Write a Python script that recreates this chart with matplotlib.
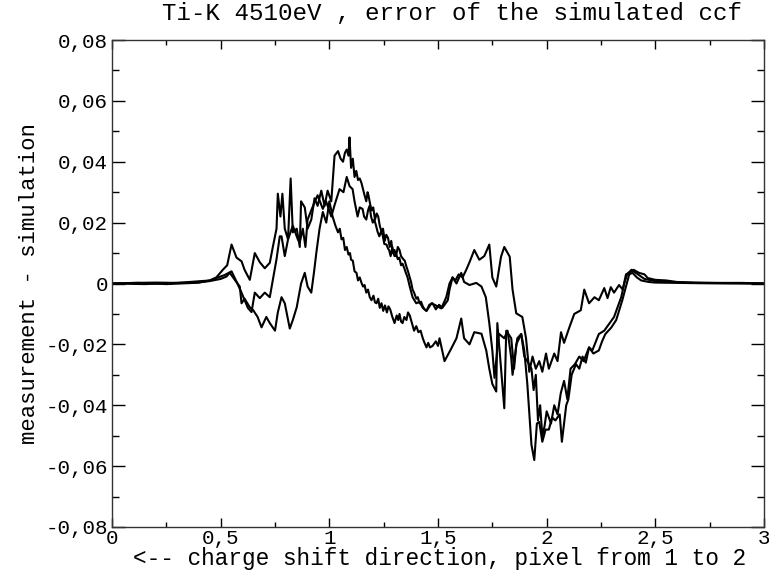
import matplotlib
matplotlib.use("Agg")
import matplotlib.pyplot as plt
from matplotlib.ticker import MultipleLocator, FuncFormatter

# (x, y) samples, one list per curve
curve_a = [
    (0, 0), (0.1, 0.0002), (0.2, 0.0003), (0.3, 0.0002), (0.4, 0.0003), (0.45, 0.001), (0.48, 0.002), (0.51, 0.0045),
    (0.53, 0.006), (0.55, 0.0128), (0.573, 0.0085), (0.596, 0.0073), (0.61, 0.0045), (0.634, 0.0012), (0.657, 0.010),
    (0.68, 0.007), (0.703, 0.005), (0.726, 0.0068), (0.74, 0.012), (0.757, 0.018), (0.763, 0.0295), (0.775, 0.022),
    (0.784, 0.0295), (0.795, 0.018), (0.81, 0.0145), (0.822, 0.0345), (0.832, 0.0168), (0.85, 0.018), (0.864, 0.012),
    (0.87, 0.027), (0.887, 0.025), (0.90, 0.018), (0.917, 0.021), (0.932, 0.028), (0.946, 0.0255), (0.963, 0.0305),
    (0.978, 0.0255), (0.992, 0.0305), (1.009, 0.027), (1.024, 0.042), (1.04, 0.0435), (1.052, 0.041), (1.063, 0.040),
    (1.072, 0.043), (1.08, 0.044), (1.088, 0.042), (1.093, 0.048), (1.10, 0.038), (1.108, 0.041), (1.116, 0.035),
    (1.124, 0.037), (1.132, 0.034), (1.14, 0.0345), (1.148, 0.033), (1.155, 0.031), (1.162, 0.029), (1.17, 0.027),
    (1.176, 0.030), (1.18, 0.029), (1.188, 0.026), (1.195, 0.024), (1.202, 0.025), (1.21, 0.021), (1.218, 0.023),
    (1.225, 0.022), (1.232, 0.019), (1.24, 0.017), (1.247, 0.018), (1.255, 0.014), (1.262, 0.016), (1.27, 0.015),
    (1.278, 0.012), (1.285, 0.014), (1.292, 0.010), (1.30, 0.011), (1.307, 0.009), (1.315, 0.012), (1.323, 0.011),
    (1.33, 0.009), (1.34, 0.008), (1.347, 0.0075), (1.355, 0.0055), (1.362, 0.004), (1.37, 0.002), (1.376, 0.0005),
    (1.383, -0.002), (1.39, -0.003), (1.40, -0.005), (1.407, -0.0045), (1.415, -0.0065), (1.422, -0.006), (1.43, -0.0075),
    (1.438, -0.0085), (1.447, -0.009), (1.46, -0.007), (1.475, -0.0065), (1.49, -0.0085), (1.505, -0.007), (1.52, -0.008),
    (1.535, -0.0065), (1.545, -0.0055), (1.553, -0.002), (1.567, 0.002), (1.58, 0.001), (1.595, 0.003), (1.613, 0.002),
    (1.63, 0.0045), (1.645, 0.007), (1.667, 0.011), (1.69, 0.0078), (1.713, 0.009), (1.736, 0.0128), (1.75, 0.002),
    (1.768, -0.001), (1.79, 0.0088), (1.805, 0.012), (1.83, 0.0088), (1.843, -0.002), (1.86, -0.0098), (1.888, -0.011),
    (1.905, -0.018), (1.92, -0.029), (1.935, -0.024), (1.95, -0.028), (1.966, -0.0255), (1.98, -0.029), (1.997, -0.023),
    (2.01, -0.028), (2.035, -0.023), (2.05, -0.0255), (2.066, -0.016), (2.08, -0.0195), (2.104, -0.0145), (2.127, -0.010),
    (2.157, -0.0088), (2.173, -0.002), (2.195, -0.0065), (2.22, -0.0045), (2.24, -0.0055), (2.265, -0.0015), (2.28, -0.0048),
    (2.295, -0.0012), (2.31, -0.003), (2.333, -0.0005), (2.35, -0.002), (2.365, 0.003), (2.39, 0.004), (2.40, 0.0045),
    (2.425, 0.0035), (2.45, 0.003), (2.465, 0.0018), (2.50, 0.0012), (2.55, 0.001), (2.6, 0.0005), (2.7, 0.0003),
    (2.8, 0.0002), (2.9, 0.0002), (3.0, 0.0),
]

curve_b = [
    (0, 0), (0.15, -0.0002), (0.3, 0.0002), (0.45, 0.001), (0.519, 0.0028), (0.55, 0.004), (0.573, 0.0006), (0.596, -0.003),
    (0.625, -0.008), (0.642, -0.0094), (0.657, -0.003), (0.68, -0.0048), (0.703, -0.003), (0.726, -0.0045), (0.74, 0.0012),
    (0.757, 0.008), (0.772, 0.0155), (0.78, 0.0155), (0.795, 0.009), (0.81, 0.0145), (0.832, 0.019), (0.855, 0.0145),
    (0.864, 0.0135), (0.878, 0.018), (0.89, 0.012), (0.90, 0.021), (0.925, 0.0255), (0.946, 0.029), (0.97, 0.0245),
    (0.985, 0.027), (1.009, 0.022), (1.025, 0.026), (1.047, 0.031), (1.065, 0.030), (1.08, 0.035), (1.093, 0.032),
    (1.107, 0.031), (1.116, 0.027), (1.13, 0.022), (1.14, 0.025), (1.153, 0.0245), (1.16, 0.022), (1.17, 0.021),
    (1.178, 0.024), (1.185, 0.0255), (1.192, 0.022), (1.20, 0.020), (1.207, 0.021), (1.215, 0.019), (1.222, 0.017),
    (1.23, 0.0155), (1.238, 0.017), (1.245, 0.016), (1.253, 0.013), (1.263, 0.0128), (1.27, 0.0115), (1.275, 0.011),
    (1.282, 0.009), (1.29, 0.012), (1.295, 0.010), (1.30, 0.009), (1.308, 0.0095), (1.315, 0.008), (1.322, 0.0085),
    (1.33, 0.006), (1.337, 0.0065), (1.345, 0.005), (1.352, 0.0035), (1.36, 0.002), (1.37, -0.001), (1.383, -0.0045),
    (1.40, -0.0065), (1.415, -0.006), (1.43, -0.008), (1.447, -0.009), (1.47, -0.0065), (1.49, -0.0072), (1.515, -0.0082),
    (1.538, -0.0045), (1.553, 0.0), (1.567, 0.002), (1.585, 0.0), (1.607, 0.0035), (1.62, 0.0005), (1.645, -0.0005),
    (1.676, 0.0002), (1.70, -0.001), (1.72, -0.0045), (1.736, -0.013), (1.75, -0.022), (1.76, -0.031), (1.78, -0.0165),
    (1.805, -0.018), (1.82, -0.0155), (1.837, -0.0245), (1.843, -0.030), (1.865, -0.018), (1.883, -0.0166), (1.897, -0.024),
    (1.915, -0.026), (1.93, -0.028), (1.94, -0.035), (1.95, -0.030), (1.96, -0.045), (1.97, -0.040), (1.98, -0.050),
    (1.99, -0.047), (2.00, -0.042), (2.02, -0.046), (2.035, -0.040), (2.05, -0.043), (2.065, -0.036), (2.08, -0.032),
    (2.095, -0.038), (2.11, -0.028), (2.13, -0.0265), (2.15, -0.024), (2.17, -0.0255), (2.195, -0.021), (2.21, -0.022),
    (2.24, -0.0166), (2.265, -0.0155), (2.29, -0.013), (2.31, -0.011), (2.325, -0.008), (2.343, -0.0045), (2.357, 0.0),
    (2.37, 0.003), (2.39, 0.0045), (2.41, 0.0035), (2.43, 0.0025), (2.45, 0.0015), (2.5, 0.0008), (2.65, 0.0002),
    (2.8, 0.0001), (3.0, 0.0),
]

curve_c = [
    (0, 0), (0.12, 0.0002), (0.25, -0.0002), (0.38, 0.0002), (0.45, 0.0008), (0.5, 0.0015), (0.527, 0.0023), (0.542, 0.0035),
    (0.565, 0.0012), (0.588, -0.001), (0.596, -0.0065), (0.61, -0.005), (0.634, -0.0078), (0.65, -0.0088), (0.67, -0.011),
    (0.688, -0.0144), (0.71, -0.011), (0.726, -0.013), (0.75, -0.0155), (0.763, -0.0095), (0.78, -0.0045), (0.795, -0.0065),
    (0.818, -0.0148), (0.832, -0.012), (0.85, -0.0078), (0.87, 0.0), (0.887, 0.0035), (0.90, -0.001), (0.917, -0.003),
    (0.93, 0.004), (0.94, 0.010), (0.955, 0.018), (0.97, 0.0235), (0.986, 0.020), (1.00, 0.027), (1.015, 0.022),
    (1.028, 0.019), (1.04, 0.0168), (1.048, 0.018), (1.056, 0.0145), (1.064, 0.015), (1.072, 0.011), (1.08, 0.012),
    (1.088, 0.0095), (1.095, 0.010), (1.10, 0.0078), (1.108, 0.0075), (1.116, 0.004), (1.125, 0.0035), (1.132, 0.001),
    (1.14, 0.002), (1.148, 0.0002), (1.155, -0.001), (1.162, -0.0005), (1.17, -0.003), (1.178, -0.002), (1.186, -0.0045),
    (1.194, -0.0055), (1.203, -0.004), (1.21, -0.0062), (1.217, -0.0065), (1.225, -0.005), (1.232, -0.008), (1.24, -0.0065),
    (1.248, -0.009), (1.256, -0.0072), (1.265, -0.0095), (1.272, -0.0075), (1.28, -0.0085), (1.29, -0.011), (1.30, -0.013),
    (1.31, -0.0105), (1.317, -0.012), (1.323, -0.010), (1.33, -0.0125), (1.337, -0.013), (1.345, -0.011), (1.355, -0.012),
    (1.362, -0.0095), (1.37, -0.0105), (1.38, -0.013), (1.39, -0.0155), (1.40, -0.014), (1.41, -0.016), (1.42, -0.0155),
    (1.43, -0.018), (1.438, -0.0195), (1.447, -0.021), (1.455, -0.0195), (1.463, -0.021), (1.475, -0.0205), (1.49, -0.019),
    (1.50, -0.0205), (1.507, -0.018), (1.53, -0.0255), (1.56, -0.0215), (1.585, -0.018), (1.607, -0.0115), (1.62, -0.018),
    (1.645, -0.020), (1.667, -0.016), (1.70, -0.0165), (1.722, -0.022), (1.736, -0.028), (1.75, -0.033), (1.768, -0.0355),
    (1.773, -0.013), (1.79, -0.028), (1.805, -0.041), (1.814, -0.0155), (1.837, -0.018), (1.85, -0.028), (1.86, -0.020),
    (1.883, -0.0166), (1.897, -0.022), (1.911, -0.033), (1.93, -0.053), (1.943, -0.058), (1.955, -0.046), (1.966, -0.0455),
    (1.98, -0.052), (1.995, -0.048), (2.01, -0.048), (2.025, -0.044), (2.04, -0.045), (2.06, -0.043), (2.07, -0.052),
    (2.08, -0.046), (2.09, -0.040), (2.10, -0.038), (2.115, -0.030), (2.135, -0.0265), (2.15, -0.028), (2.165, -0.024),
    (2.18, -0.026), (2.195, -0.021), (2.215, -0.023), (2.24, -0.022), (2.255, -0.019), (2.27, -0.0166), (2.297, -0.0145),
    (2.32, -0.012), (2.333, -0.009), (2.348, -0.0055), (2.365, -0.001), (2.38, 0.003), (2.395, 0.0035), (2.415, 0.002),
    (2.435, 0.001), (2.47, 0.0005), (2.5, 0.0003), (2.7, 0.0001), (3.0, 0.0),
]

title = "Ti-K 4510eV , error of the simulated ccf"
xlabel = "<-- charge shift direction, pixel from 1 to 2"
ylabel = "measurement - simulation"

plt.rcParams['font.family'] = ['Liberation Mono', 'DejaVu Sans Mono']

fig = plt.figure(figsize=(7.69, 5.75), dpi=100)
ax = fig.add_axes([112/769, 1-527/575, (764-112)/769, (527-40)/575])

for pts in (curve_a, curve_b, curve_c):
    xs = [p[0] for p in pts]
    ys = [p[1] for p in pts]
    ax.plot(xs, ys, color='black', lw=1.5)

ax.set_xlim(0, 3)
ax.set_ylim(-0.08, 0.08)
ax.xaxis.set_major_locator(MultipleLocator(0.5))
ax.xaxis.set_minor_locator(MultipleLocator(0.25))
ax.yaxis.set_major_locator(MultipleLocator(0.02))
ax.yaxis.set_minor_locator(MultipleLocator(0.01))

def fmt_x(v, pos):
    v = round(v, 3)
    if abs(v) < 1e-9:
        return "0"
    return f"{v:g}".replace('.', ',')

def fmt_y(v, pos):
    v = round(v, 4)
    if abs(v) < 1e-9:
        return "0"
    return f"{v:.2f}".replace('.', ',')

ax.xaxis.set_major_formatter(FuncFormatter(fmt_x))
ax.yaxis.set_major_formatter(FuncFormatter(fmt_y))

ax.tick_params(axis='x', which='major', direction='in', length=6.5, width=1, top=True, labelsize=15, pad=1.5)
ax.tick_params(axis='x', which='minor', direction='in', length=3.5, width=1, top=True)
ax.tick_params(axis='y', which='major', direction='in', length=9.5, width=1, right=True, labelsize=15, pad=3)
ax.tick_params(axis='y', which='minor', direction='in', length=5, width=1, right=True)
for s in ax.spines.values():
    s.set_linewidth(1.0)
    s.set_color('#333333')

ax.set_ylabel(ylabel, fontsize=16, labelpad=4)
fig.text(440/769, 1-559/575, xlabel, fontsize=16.4, ha='center', va='center')
fig.text(452/769, 1-14/575, title, fontsize=17.4, ha='center', va='center')

fig.savefig("out.png", dpi=100)
